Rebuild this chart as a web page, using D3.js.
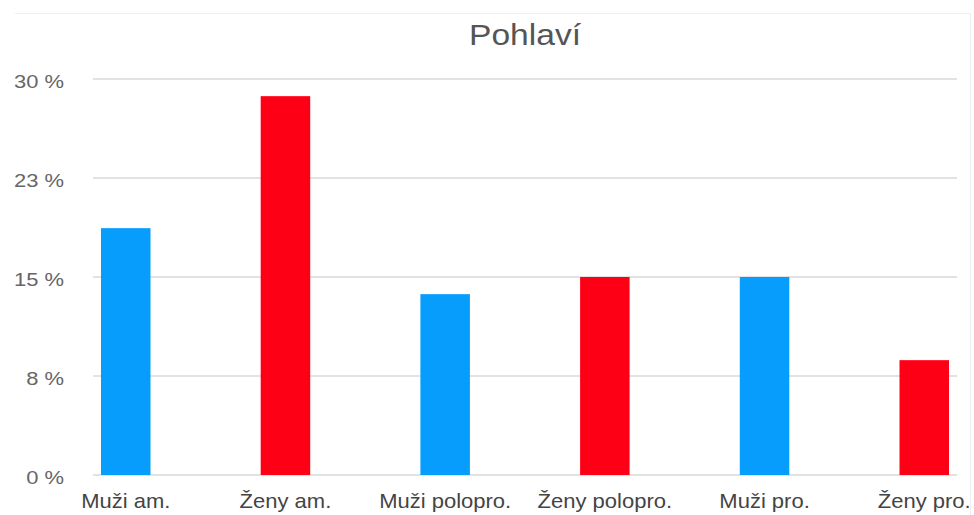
<!DOCTYPE html>
<html>
<head>
<meta charset="utf-8">
<script src="https://cdn.jsdelivr.net/npm/d3@7"></script>
<style>
  body { margin: 0; background: #fff; }
  text { font-family: "Liberation Sans", Arial, sans-serif; }
</style>
</head>
<body>
<svg id="chart" width="974" height="515"></svg>
<script>
// data
const categories = ["Muži am.", "Ženy am.", "Muži polopro.", "Ženy polopro.", "Muži pro.", "Ženy pro."];
const values = [18.7, 28.7, 13.7, 15, 15, 8.7];
const barColors = ["#069dfd", "#fe0016", "#069dfd", "#fe0016", "#069dfd", "#fe0016"];
const yTicks = [0, 7.5, 15, 22.5, 30];
const yTickLabels = ["0 %", "8 %", "15 %", "23 %", "30 %"];
const title = "Pohlaví";

const svg = d3.select("#chart");

const x = d3.scaleBand()
    .domain(categories)
    .range([93, 957])
    .paddingInner(0.69)
    .paddingOuter(0.05);

const y = d3.scaleLinear()
    .domain([0, 30])
    .range([475, 79]);

// faint frame at top and right
svg.append("path")
    .attr("d", "M15,13.5H970.5V515")
    .attr("fill", "none")
    .attr("stroke", "#eeeeee")
    .attr("stroke-width", 1);

// gridlines
svg.append("g")
    .selectAll("line")
    .data(yTicks)
    .join("line")
    .attr("x1", 93)
    .attr("x2", 957)
    .attr("y1", d => y(d))
    .attr("y2", d => y(d))
    .attr("stroke", "#d8d8d8")
    .attr("stroke-width", 1.5);

// y axis labels (the source text is a bit wide, so stretch it)
const yAxis = d3.axisLeft(y)
    .tickValues(yTicks)
    .tickSize(0)
    .tickPadding(0)
    .tickFormat((d, i) => yTickLabels[i]);

const yg = svg.append("g")
    .attr("transform", "translate(64,0)")
    .call(yAxis);
yg.select(".domain").remove();
yg.selectAll("text")
    .attr("fill", "#666")
    .attr("font-size", 18)
    .attr("dy", "0.45em")
    .attr("transform", "scale(1.22,1)");

// bars
svg.append("g")
    .selectAll("rect")
    .data(values)
    .join("rect")
    .attr("x", (d, i) => x(categories[i]))
    .attr("width", x.bandwidth())
    .attr("y", d => y(d))
    .attr("height", d => y(0) - y(d))
    .attr("fill", (d, i) => barColors[i]);

// x axis labels
const xAxis = d3.axisBottom(x).tickSize(0).tickPadding(0);
const xg = svg.append("g")
    .attr("transform", "translate(0,508)")
    .call(xAxis);
xg.select(".domain").remove();
xg.selectAll("text")
    .attr("fill", "#444")
    .attr("font-size", 20)
    .attr("dy", 0)
    .attr("y", 0)
    .attr("transform", "scale(1.1,1)");

// title
svg.append("text")
    .attr("transform", "translate(525,45) scale(1.12,1)")
    .attr("text-anchor", "middle")
    .attr("font-size", 30)
    .attr("fill", "#555")
    .text(title);
</script>
</body>
</html>
